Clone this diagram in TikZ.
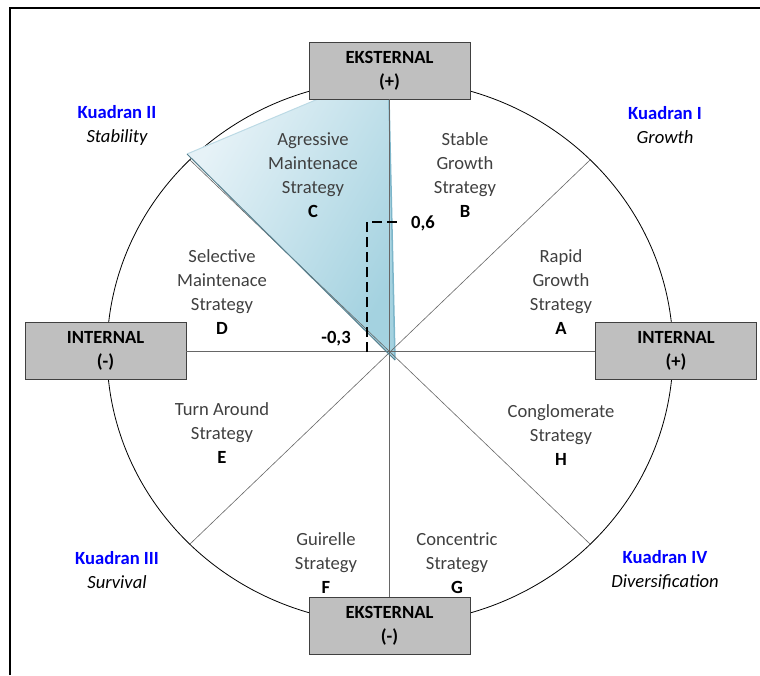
\documentclass[tikz,border=0pt]{standalone}
\usepackage{fontspec}
\setmainfont{Carlito}
\definecolor{shadelight}{HTML}{E6F2F7}
\definecolor{shadedark}{HTML}{A4D2E0}
\definecolor{shadeedge}{HTML}{7DB6CA}
\begin{document}
\fontsize{18.6}{24}\selectfont
\begin{tikzpicture}[x=1pt,y=-1pt]
    \tikzstyle{box} = [draw = black!75, fill = black!25, line width = 0.8pt, minimum width = 161pt, minimum height = 57pt, inner sep = 0pt, align = center, font = \bfseries]
    \tikzstyle{strat} = [align = center, text = black!75]
    \tikzstyle{quad} = [align = center, text = blue, font = \bfseries]
    \tikzstyle{axis} = [black!60, line width = 0.6pt]
    \tikzstyle{value} = [font = \bfseries]
    \useasboundingbox (0,0) rectangle (760,675);

    % frame
    \draw[line width = 2pt] (10,675) -- (10,8) -- (760,8);

    \coordinate (O) at (390,352);
    \draw[line width = 0.8pt] (O) ellipse [x radius = 283pt, y radius = 272pt];

    % aggressive maintenance area
    \coordinate (s1) at (187,154);
    \coordinate (s2) at (318,99);
    \coordinate (s3) at (389,99);
    \coordinate (s4) at (395,360);
    \shade[left color = shadelight, right color = shadedark, shading angle = 60] (s1) -- (s2) -- (s3) -- (s4) -- cycle;
    \draw[shadelight!60!shadeedge, line width = 1pt] (s1) -- (s2);
    \draw[shadeedge, line width = 1.5pt] (s3) -- (s4);

    \node[box](top) at (389.5,70.5){EKSTERNAL\\(+)};
    \node[box](bottom) at (389.5,625.5){EKSTERNAL\\(-)};
    \node[box](left) at (105.5,351){INTERNAL\\(-)};
    \node[box](right) at (676,351){INTERNAL\\(+)};

    \coordinate (q1) at (590,160);
    \coordinate (q2) at (190,160);
    \coordinate (q3) at (190,544);
    \coordinate (q4) at (590,544);

    \draw[axis](left)--(right);
    \draw[axis](top)--(bottom);
    \draw[axis](q1)--(q3);
    \draw[axis](q2)--(q4);
    \draw[black!30!shadeedge, line width = 1pt](s1)--(s4);

    % position point
    \coordinate (ie) at (367,352);
    \coordinate (ee) at (397,222);
    \draw[line width = 2.8pt, dash pattern = on 10pt off 5pt](ie) |- (ee);
    \node[value](eks) at (423,223){0,6};
    \node[value](int) at (336,339){-0,3};

    \node[strat](B) at (465,175){Stable\\Growth\\Strategy\\\textcolor{black}{\bfseries B}};
    \node[strat](C) at (313,175){Agressive\\Maintenace\\Strategy\\\textcolor{black}{\bfseries C}};
    \node[strat](A) at (561,292){Rapid\\Growth\\Strategy\\\textcolor{black}{\bfseries A}};
    \node[strat](D) at (222,292){Selective\\Maintenace\\Strategy\\\textcolor{black}{\bfseries D}};
    \node[strat](E) at (222,433){Turn Around\\Strategy\\\textcolor{black}{\bfseries E}};
    \node[strat](H) at (561,435){Conglomerate\\Strategy\\\textcolor{black}{\bfseries H}};
    \node[strat](F) at (326,563){Guirelle\\Strategy\\\textcolor{black}{\bfseries F}};
    \node[strat](G) at (457,563){Concentric\\Strategy\\\textcolor{black}{\bfseries G}};

    \node[quad](k1) at (665,125){Kuadran I\\\textcolor{black}{\mdseries\itshape Growth}};
    \node[quad](k2) at (117,125){Kuadran II\\\textcolor{black}{\mdseries\itshape Stability}};
    \node[quad](k3) at (117,570){Kuadran III\\\textcolor{black}{\mdseries\itshape Survival}};
    \node[quad](k4) at (665,570){Kuadran IV\\\textcolor{black}{\mdseries\itshape Diversification}};
\end{tikzpicture}
\end{document}
